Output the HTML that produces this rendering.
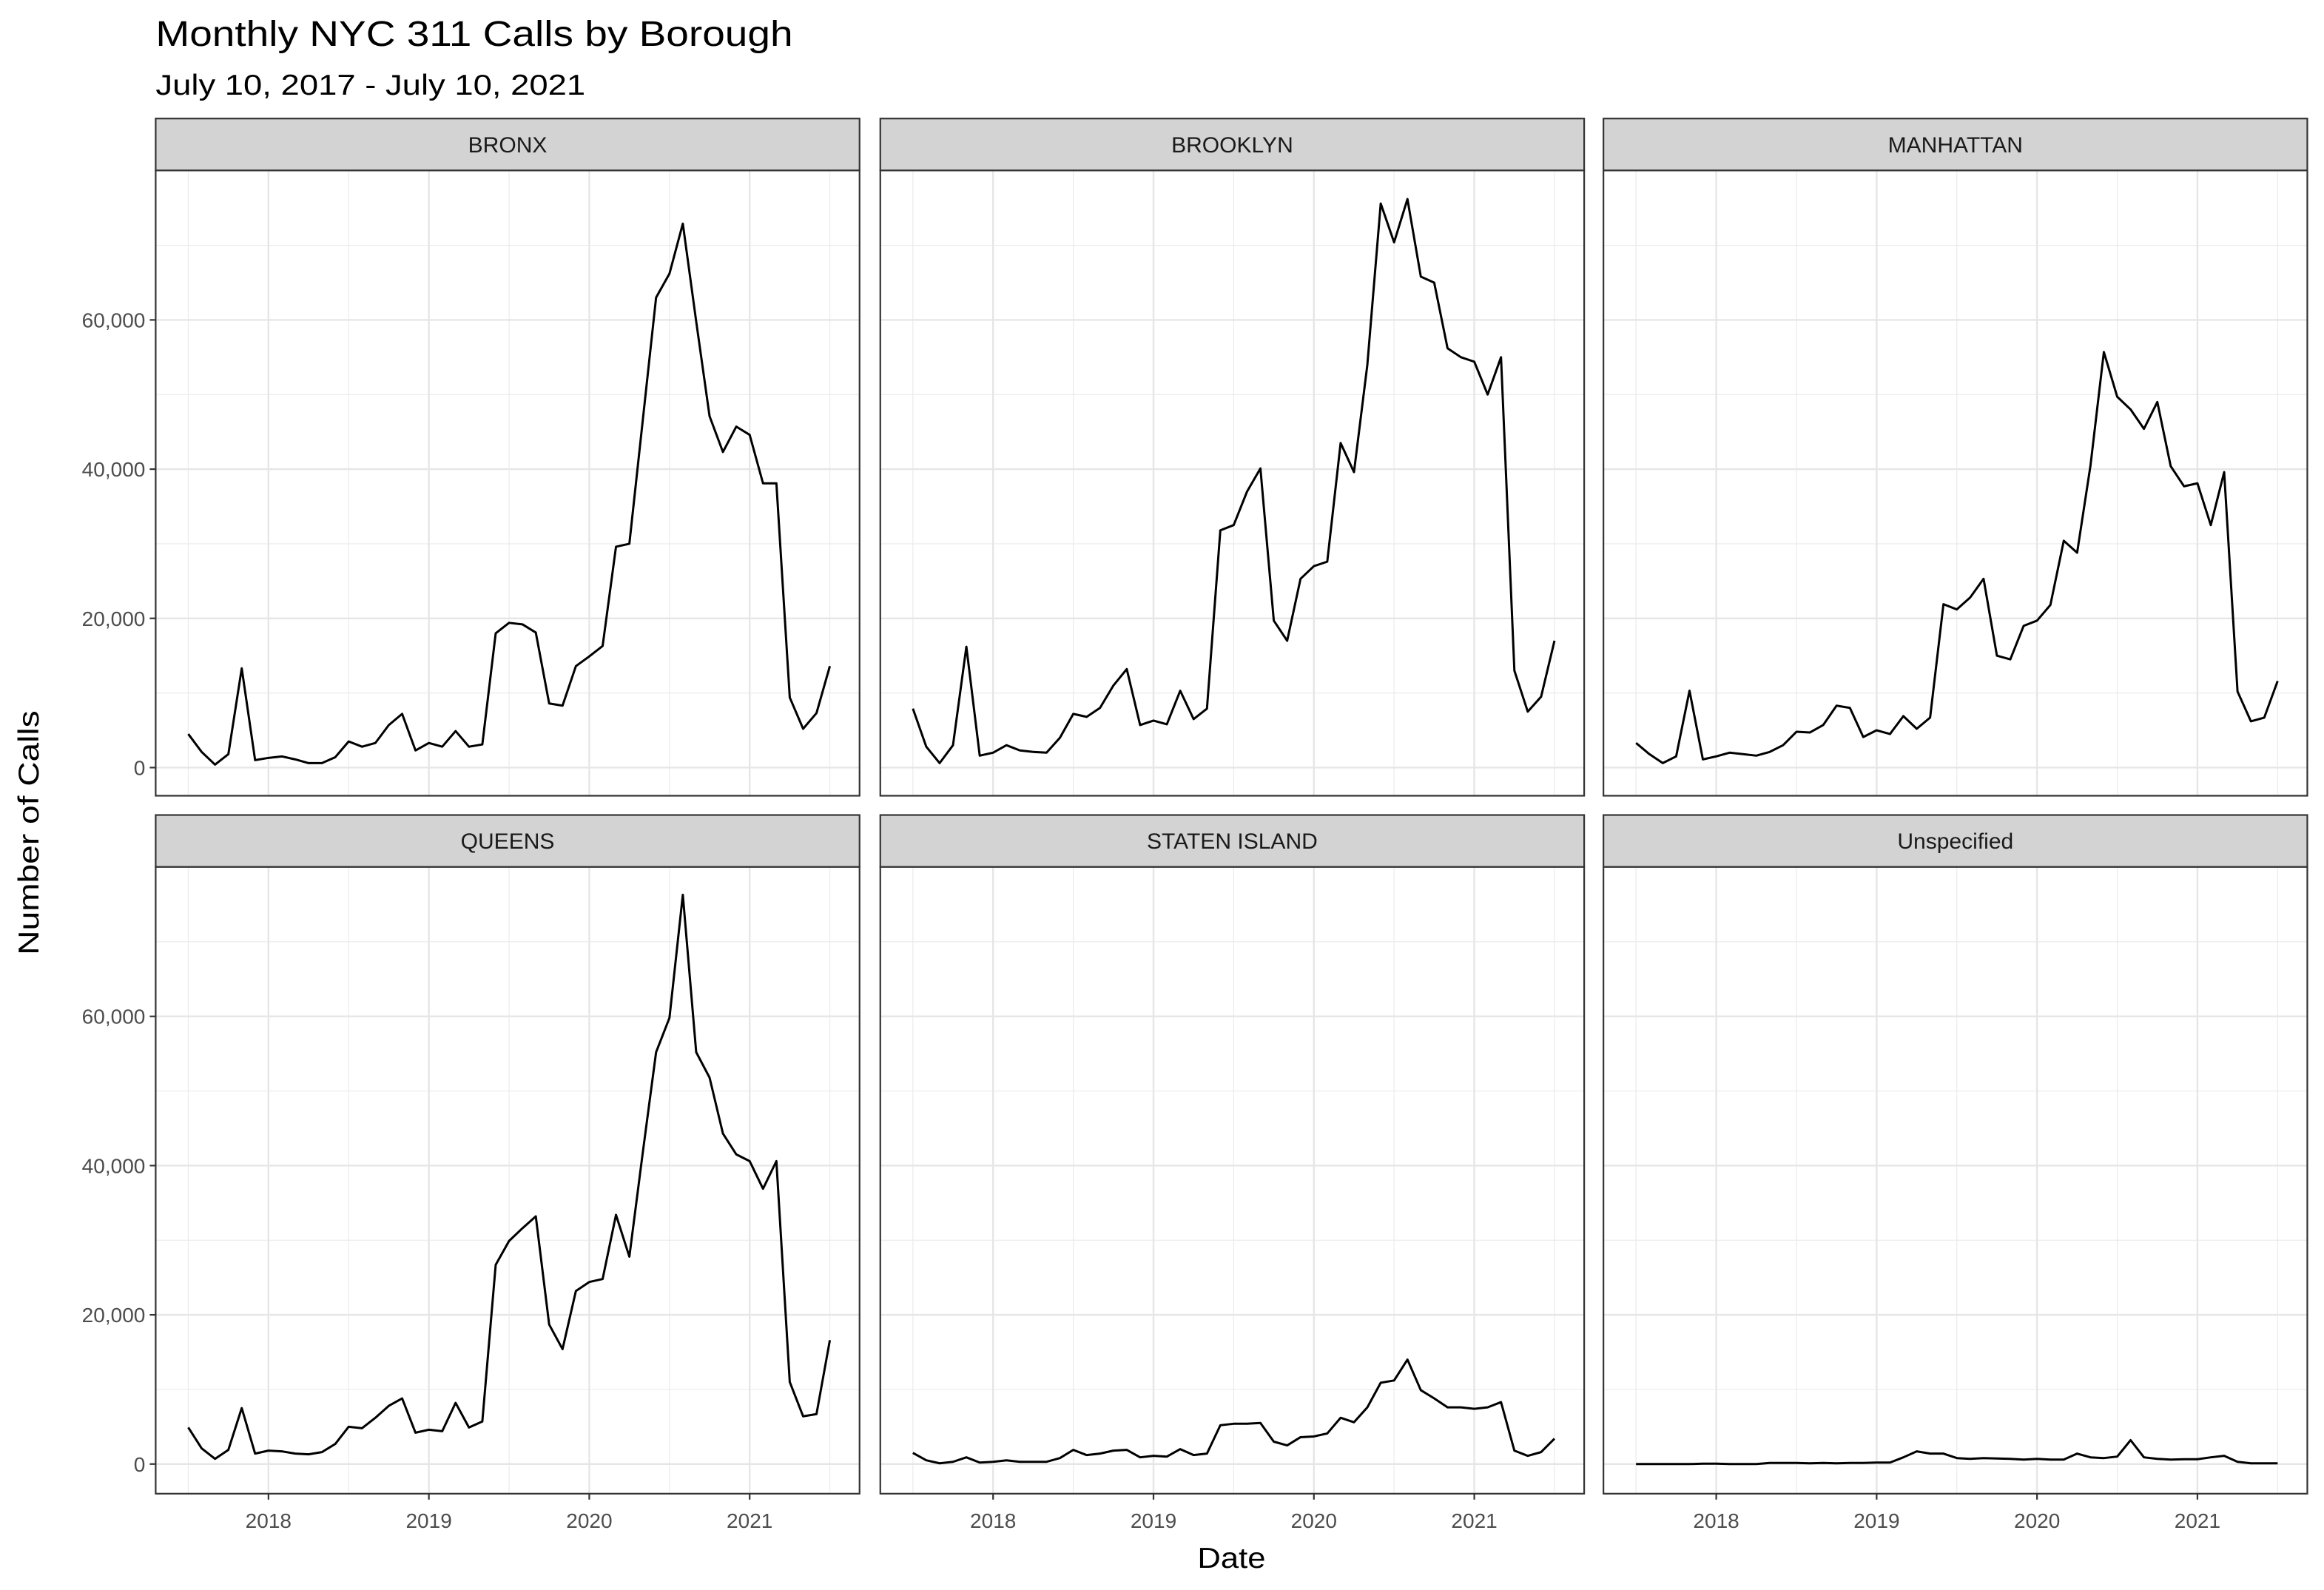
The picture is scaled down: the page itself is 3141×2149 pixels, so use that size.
<!DOCTYPE html>
<html><head><meta charset="utf-8"><style>
html,body{margin:0;padding:0;background:#fff;}
svg{display:block;font-family:"Liberation Sans",Arial,sans-serif;}
</style></head><body>
<svg id="chart" width="3141" height="2149" viewBox="0 0 1568.2 1073" xmlns="http://www.w3.org/2000/svg">
<rect width="1568.2" height="1073" fill="#fff"/>
<text x="105" y="31" font-size="24" fill="#000" textLength="430" lengthAdjust="spacingAndGlyphs">Monthly NYC 311 Calls by Borough</text>
<text x="105" y="64" font-size="19.5" fill="#000" textLength="290" lengthAdjust="spacingAndGlyphs">July 10, 2017 - July 10, 2021</text>
<text x="831" y="1058" font-size="19.5" text-anchor="middle" fill="#000" textLength="46" lengthAdjust="spacingAndGlyphs">Date</text>
<text transform="translate(26,562) rotate(-90)" font-size="19.5" text-anchor="middle" fill="#000" textLength="165" lengthAdjust="spacingAndGlyphs">Number of Calls</text>
<g id="panels"></g>
</svg>
<script>
const boroughs = ["BRONX","BROOKLYN","MANHATTAN","QUEENS","STATEN ISLAND","Unspecified"];
const bronx = [4.5,2.1,0.4,1.8,13.3,1.0,1.3,1.5,1.1,0.6,0.6,1.4,3.5,2.8,3.3,5.7,7.2,2.3,3.3,2.8,4.9,2.8,3.1,18.0,19.4,19.2,18.1,8.6,8.3,13.6,14.9,16.3,29.6,30.0,46.5,63.0,66.2,72.9,59.8,47.1,42.3,45.7,44.6,38.1,38.1,9.4,5.2,7.3,13.6];
const brooklyn = [7.9,2.8,0.6,3,16.2,1.6,2,3,2.3,2.1,2,4,7.2,6.8,8,11,13.2,5.7,6.3,5.8,10.3,6.5,7.9,31.8,32.5,37,40.1,19.7,17,25.3,27,27.6,43.5,39.6,54,75.6,70.4,76.2,65.8,65,56.2,55,54.4,50,55,13,7.5,9.5,17];
const manhattan = [3.3,1.8,0.6,1.5,10.3,1.1,1.5,2,1.8,1.6,2.1,3,4.8,4.7,5.7,8.3,8,4.1,5,4.5,6.9,5.2,6.7,21.9,21.2,22.8,25.3,15,14.5,19,19.7,21.8,30.4,28.8,40.5,55.7,49.7,48,45.4,49,40.4,37.7,38.1,32.5,39.6,10.2,6.2,6.7,11.6];
const queens = [4.9,2.1,0.7,1.9,7.5,1.4,1.8,1.7,1.4,1.3,1.6,2.7,5,4.8,6.2,7.8,8.8,4.2,4.6,4.4,8.2,4.9,5.7,26.7,29.9,31.6,33.2,18.7,15.4,23.2,24.4,24.8,33.4,27.8,41.7,55.2,59.8,76.3,55.2,51.8,44.3,41.5,40.6,36.9,40.6,11,6.4,6.7,16.6];
const staten = [1.5,0.5,0.1,0.3,0.9,0.2,0.3,0.5,0.3,0.3,0.3,0.8,1.9,1.2,1.4,1.8,1.9,0.9,1.1,1,2,1.2,1.4,5.2,5.4,5.4,5.5,3,2.5,3.6,3.7,4.1,6.2,5.6,7.6,10.9,11.2,14,9.9,8.8,7.6,7.6,7.4,7.6,8.3,1.8,1.1,1.6,3.4];
const unspecified = [0,0,0,0,0,0.05,0.05,0,0,0,0.15,0.15,0.15,0.1,0.15,0.1,0.15,0.15,0.2,0.2,0.9,1.7,1.4,1.4,0.8,0.7,0.8,0.75,0.7,0.6,0.7,0.6,0.6,1.4,0.9,0.8,1.0,3.2,0.9,0.7,0.6,0.65,0.65,0.9,1.1,0.3,0.1,0.1,0.1];
const yTickValues = [0,20000,40000,60000];
const yTickLabels = ["0","20,000","40,000","60,000"];
const xTickLabels = ["2018","2019","2020","2021"];
const xTickMonths = [6,18,30,42];
const xMinorMonths = [0,12,24,36,48];
const yMinorValues = [10000,30000,50000,70000];

const series = [bronx,brooklyn,manhattan,queens,staten,unspecified];
const NS="http://www.w3.org/2000/svg";
const root=document.getElementById('panels');
const colsL=[105,594,1082], PW=475;
const rows=[{st:80,pt:115,pb:537,y0:518},{st:550,pt:585,pb:1008,y0:988}];
function mk(tag,attrs,parent){const e=document.createElementNS(NS,tag);for(const k in attrs)e.setAttribute(k,attrs[k]);(parent||root).appendChild(e);return e;}
const kPerPx=100.7/20000;
for(let i=0;i<6;i++){
  const c=i%3,r=Math.floor(i/3),L=colsL[c],R=rows[r];
  const xs=m=>L+22+m*9.02;
  const ys=v=>R.y0-v*kPerPx;
  const g=mk('g',{});
  
  
  mk('rect',{x:L,y:R.pt,width:PW,height:R.pb-R.pt,fill:'#fff'},g);
  yMinorValues.forEach(v=>{const l=mk('line',{x1:L,x2:L+PW,y1:ys(v),y2:ys(v),stroke:'#ebebeb','stroke-width':0.6},g);});
  xMinorMonths.forEach(m=>{const l=mk('line',{x1:xs(m),x2:xs(m),y1:R.pt,y2:R.pb,stroke:'#ebebeb','stroke-width':0.6},g);});
  yTickValues.forEach(v=>{const l=mk('line',{x1:L,x2:L+PW,y1:ys(v),y2:ys(v),stroke:'#e6e6e6','stroke-width':1.2},g);});
  xTickMonths.forEach(m=>{const l=mk('line',{x1:xs(m),x2:xs(m),y1:R.pt,y2:R.pb,stroke:'#e6e6e6','stroke-width':1.2},g);});
  const pts=series[i].map((v,m)=>xs(m).toFixed(2)+','+ys(v*1000).toFixed(2)).join(' ');
  const pl=mk('polyline',{points:pts,fill:'none',stroke:'#000','stroke-width':1.5,'stroke-linejoin':'round'},g);
  
  
  mk('rect',{x:L,y:R.pt,width:PW,height:R.pb-R.pt,fill:'none',stroke:'#333','stroke-width':1.1},g);
  const s=mk('rect',{x:L,y:R.st,width:PW,height:R.pt-R.st,fill:'#d3d3d3',stroke:'#333','stroke-width':1.1},g);
  
  
  const st=mk('text',{x:L+PW/2,y:(R.st+R.pt)/2+5.3,'font-size':15,'text-anchor':'middle',fill:'#1a1a1a'},g);
  st.textContent=boroughs[i];
  
  
  if(c===0){
    yTickValues.forEach((v,k)=>{
      mk('line',{x1:L-4,x2:L,y1:ys(v),y2:ys(v),stroke:'#333','stroke-width':1.1},g);
      const t=mk('text',{x:L-7,y:ys(v)+5,'font-size':14,'text-anchor':'end',fill:'#4d4d4d'},g);
      t.textContent=yTickLabels[k];
      
      
    });
  }
  if(r===1){
    xTickMonths.forEach((m,k)=>{
      mk('line',{x1:xs(m),x2:xs(m),y1:R.pb,y2:R.pb+4,stroke:'#333','stroke-width':1.1},g);
      const t=mk('text',{x:xs(m),y:R.pb+23,'font-size':14,'text-anchor':'middle',fill:'#4d4d4d'},g);
      t.textContent=xTickLabels[k];
      
      
    });
  }
}
</script>
</body></html>
